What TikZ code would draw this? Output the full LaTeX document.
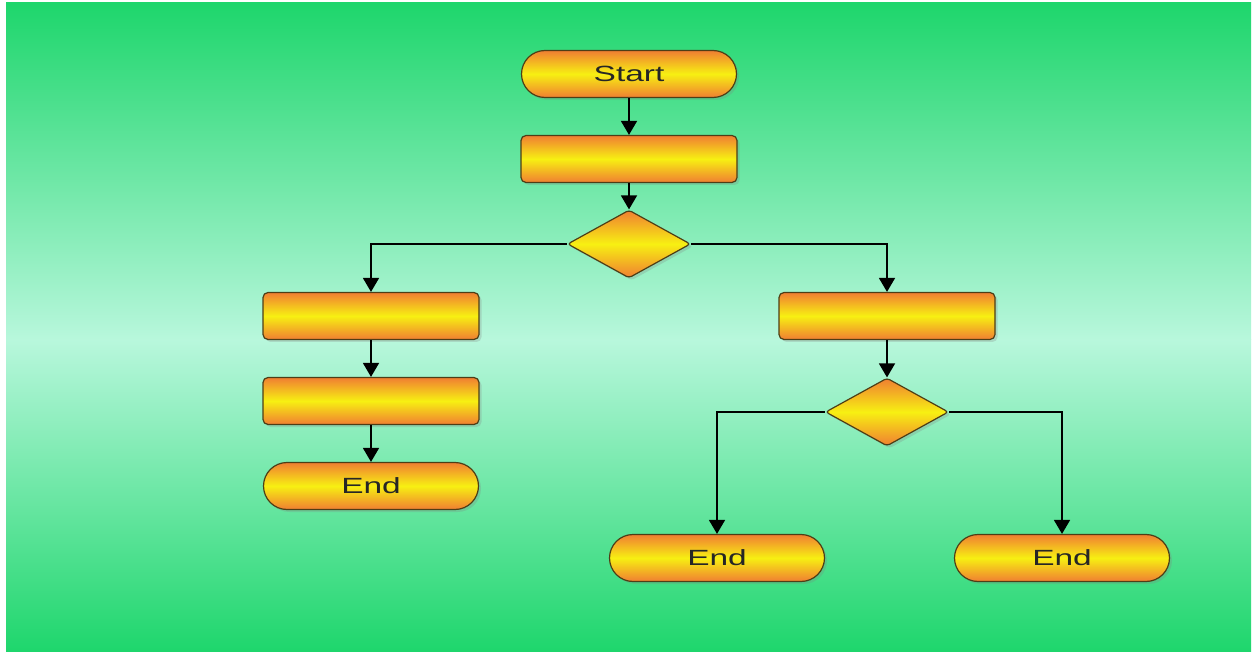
\documentclass[tikz,border=0pt]{standalone}
\usepackage{fontspec}
\setmainfont{Liberation Sans}
\newfontfamily\labelfont[FakeStretch=1.52]{Liberation Sans}
\usetikzlibrary{shapes.geometric,shapes.misc,shadows,arrows.meta}
\definecolor{bgGreen}{RGB}{30,214,108}
\definecolor{bgMint}{RGB}{184,247,220}
\definecolor{boxOrange}{RGB}{240,126,50}
\definecolor{boxYellow}{RGB}{247,240,18}
\definecolor{boxLine}{RGB}{78,62,22}
\tikzset{
  base/.style={draw=boxLine, line width=1.2pt, top color=boxOrange, bottom color=boxOrange, middle color=boxYellow,
    drop shadow={opacity=0.25, shadow xshift=2.5pt, shadow yshift=-2.5pt},
    font=\labelfont\fontsize{22}{25}\selectfont, text=black!85, inner sep=0pt},
  terminal/.style={base, rounded rectangle, minimum width=215pt, minimum height=47pt},
  process/.style={base, rectangle, rounded corners=5pt, minimum width=216pt, minimum height=47pt},
  decision/.style={base, diamond, minimum width=123pt, minimum height=68pt, rounded corners=3pt},
  flow/.style={-{Triangle[width=16pt,length=14pt]}, line width=1.6pt}
}
\begin{document}
\begin{tikzpicture}[x=1pt,y=-1pt]%
% background
\fill[white] (0,0) rectangle (1256,652);%
\fill[top color=bgGreen, bottom color=bgMint] (6,3) rectangle (1251,340);%
\fill[top color=bgMint, bottom color=bgGreen] (6,340) rectangle (1251,652);%
%
% main column
\node[terminal] (start) at (629,74) {Start};%
\node[process] (init) at (629,159) {};%
\node[decision] (test) at (629,244) {};%
%
% left branch
\node[process] (leftA) at (371,316) {};%
\node[process] (leftB) at (371,401) {};%
\node[terminal] (endL) at (371,486) {End};%
%
% right branch
\node[process] (rightA) at (887,316) {};%
\node[decision] (test2) at (887,412) {};%
\node[terminal] (endM) at (717,558) {End};%
\node[terminal] (endR) at (1062,558) {End};%
%
\draw[flow] (start) -- (init);%
\draw[flow] (init) -- (test);%
\draw[flow] (test.west) -| (leftA);%
\draw[flow] (test.east) -| (rightA);%
\draw[flow] (leftA) -- (leftB);%
\draw[flow] (leftB) -- (endL);%
\draw[flow] (rightA) -- (test2);%
\draw[flow] (test2.west) -| (endM);%
\draw[flow] (test2.east) -| (endR);%
%
\end{tikzpicture}
\end{document}
